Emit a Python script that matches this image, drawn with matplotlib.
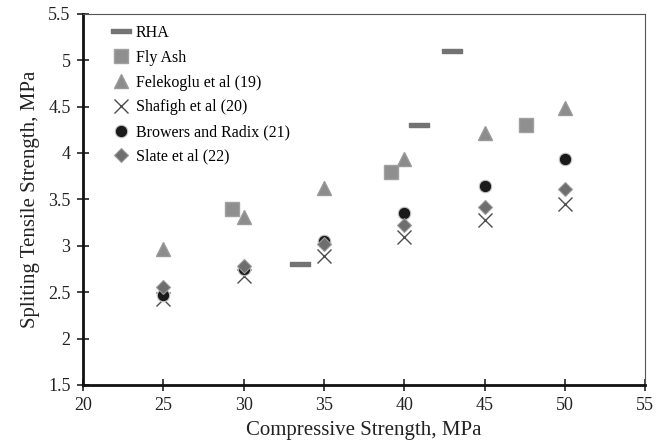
import matplotlib.pyplot as plt

plt.rcParams['font.family'] = ['Liberation Serif', 'DejaVu Serif']

## data
rha_x = [33.5, 40.9, 43.0]
rha_y = [2.8, 4.3, 5.1]

fly_x = [29.3, 39.2, 47.6]
fly_y = [3.4, 3.8, 4.3]

ref_x = [25, 30, 35, 40, 45, 50]
felek_y = [2.96, 3.31, 3.62, 3.93, 4.22, 4.49]
shafigh_y = [2.43, 2.67, 2.89, 3.09, 3.28, 3.45]
browers_y = [2.47, 2.75, 3.05, 3.35, 3.64, 3.94]
slate_y = [2.55, 2.78, 3.02, 3.22, 3.42, 3.61]

fig = plt.figure(figsize=(6.65, 4.46), dpi=100)
ax = fig.add_axes([0.125, 0.137, 0.845, 0.832])

bar = [(-1, -0.17), (1, -0.17), (1, 0.17), (-1, 0.17), (-1, -0.17)]
ax.plot(rha_x, rha_y, ls="none", marker=bar, ms=14, color="#737373", mec="#737373", label="RHA")
ax.plot(fly_x, fly_y, ls="none", marker="s", ms=9.5, color="#8f8f8f", mec="#a0a0a0", label="Fly Ash")
ax.plot(ref_x, felek_y, ls="none", marker="^", ms=10, color="#8c8c8c", mec="#9a9a9a", label="Felekoglu et al (19)")
ax.plot(ref_x, shafigh_y, ls="none", marker="x", ms=10, mew=1.0, color="#4d4d4d", label="Shafigh et al (20)")
ax.plot(ref_x, browers_y, ls="none", marker="o", ms=9, color="#1a1a1a", mec="#c8c8c8", mew=0.8, label="Browers and Radix (21)")
ax.plot(ref_x, slate_y, ls="none", marker="D", ms=7, color="#6e6e6e", mec="#9a9a9a", mew=0.8, label="Slate et al (22)")

ax.set_xlim(20, 55)
ax.set_ylim(1.5, 5.5)
ax.set_xticks([20, 25, 30, 35, 40, 45, 50, 55])
ax.set_yticks([1.5, 2, 2.5, 3, 3.5, 4, 4.5, 5, 5.5])
ax.set_yticklabels(["1.5", "2", "2.5", "3", "3.5", "4", "4.5", "5", "5.5"])
ax.tick_params(direction="inout", length=8, width=1.2, labelsize=13, colors="#222222", pad=5)

ax.spines["left"].set_linewidth(2)
ax.spines["bottom"].set_linewidth(2)
ax.spines["left"].set_color("#111111")
ax.spines["bottom"].set_color("#111111")
ax.spines["top"].set_color("#555555")
ax.spines["right"].set_color("#555555")

ax.set_xlabel("Compressive Strength, MPa", fontsize=15, color="#222222", labelpad=5)
ax.set_ylabel("Spliting Tensile Strength, MPa", fontsize=15, color="#222222", labelpad=6)

ax.legend(loc="upper left", frameon=False, fontsize=11.5, handlelength=1.0,
          handletextpad=0.45, borderaxespad=0, borderpad=0, labelspacing=0.55,
          bbox_to_anchor=(0.053, 0.97))

plt.savefig("out.png")
